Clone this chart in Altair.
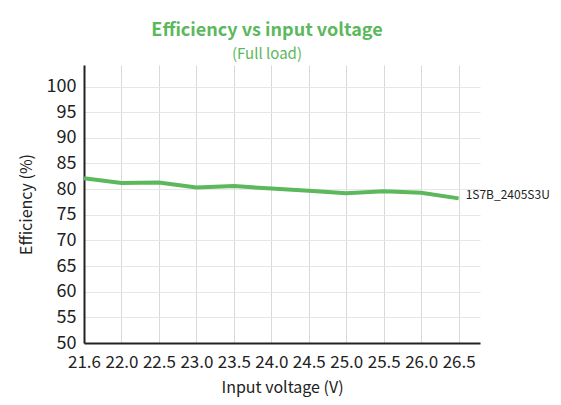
import altair as alt
import pandas as pd

voltages = ["21.6", "22.0", "22.5", "23.0", "23.5", "24.0", "24.5", "25.0", "25.5", "26.0", "26.5"]
efficiency = [82.1, 81.2, 81.3, 80.3, 80.6, 80.1, 79.7, 79.2, 79.6, 79.3, 78.2]
series_name = "1S7B_2405S3U"
y_ticks = [50, 55, 60, 65, 70, 75, 80, 85, 90, 95, 100]

FONT = "Noto Sans CJK SC, Roboto, sans-serif"
GREEN = "#5cb85c"
INK = "#222222"

df = pd.DataFrame({
    "idx": list(range(len(voltages))),
    "voltage": voltages,
    "eff": efficiency,
    "series": [series_name] * len(voltages),
})

label_expr = "[" + ",".join("'%s'" % v for v in voltages) + "][datum.value]"

x_enc = alt.X(
    "idx:Q",
    scale=alt.Scale(domain=[0, 10.57], nice=False, zero=False),
    axis=alt.Axis(
        values=list(range(len(voltages))),
        labelExpr=label_expr,
        title="Input voltage (V)",
        ticks=False,
        labelFontSize=17,
        titleFontSize=16,
        titleFontWeight="normal",
        labelPadding=11,
        titlePadding=9,
        domainColor=INK,
        domainWidth=2,
        gridColor="#d9d9d9",
        labelColor=INK,
        titleColor=INK,
        labelFlush=False,
        labelOverlap=False,
    ),
)
y_enc = alt.Y(
    "eff:Q",
    scale=alt.Scale(domain=[50, 104.2], nice=False, zero=False),
    axis=alt.Axis(
        values=y_ticks,
        title="Efficiency (%)",
        ticks=False,
        labelFontSize=18,
        titleFontSize=16,
        titleFontWeight="normal",
        labelPadding=8,
        titlePadding=12,
        domainColor=INK,
        domainWidth=2,
        gridColor="#e6e6e6",
        labelColor=INK,
        titleColor=INK,
        labelFlush=False,
        labelOverlap=False,
    ),
)

base = alt.Chart(df).encode(x=x_enc, y=y_enc)

line = base.mark_line(color=GREEN, strokeWidth=4, clip=False)

end_label = base.transform_filter(
    alt.datum.idx == len(voltages) - 1
).mark_text(align="left", dx=7, dy=-3, fontSize=12, font=FONT, color=INK).encode(
    text="series:N"
)

chart = alt.layer(line, end_label).properties(
    width=396,
    height=278,
    autosize=alt.AutoSizeParams(type="none"),
    padding={"left": 76, "top": 57, "right": 73, "bottom": 54},
    title=alt.TitleParams(
        "Efficiency vs input voltage",
        subtitle="(Full load)",
        font=FONT,
        fontSize=18,
        fontWeight="bold",
        color=GREEN,
        subtitleFont=FONT,
        subtitleFontSize=15,
        subtitleColor=GREEN,
        subtitlePadding=7,
        anchor="middle",
        frame="group",
        dx=-15,
        offset=3,
    ),
).configure_view(stroke=None).configure_axis(
    labelFont=FONT, titleFont=FONT
)

chart.save("out.html", embed_options={"renderer": "svg", "actions": False})
